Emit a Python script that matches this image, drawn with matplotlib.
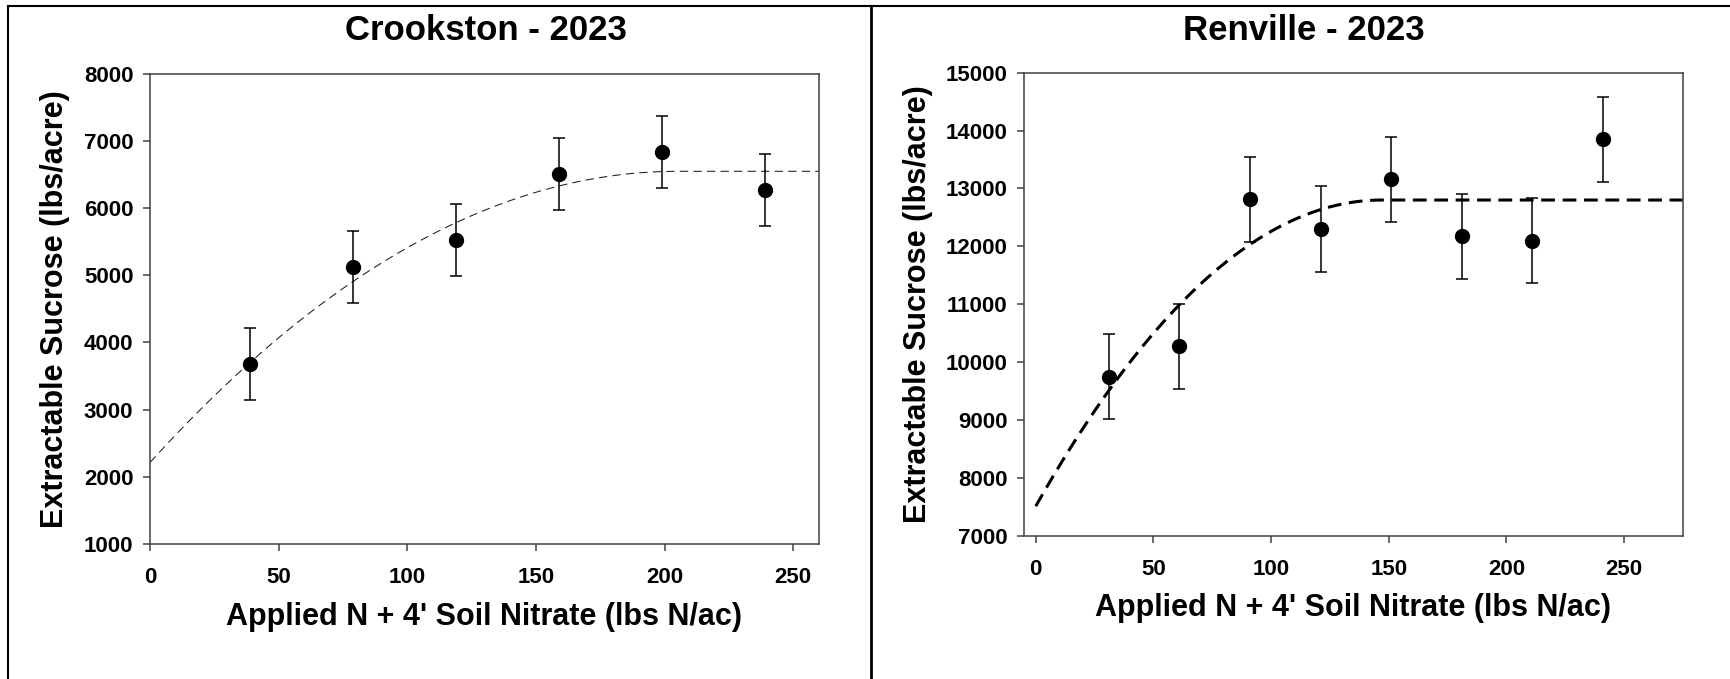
import numpy as np
import matplotlib
matplotlib.use('Agg')
import matplotlib.pyplot as plt
from matplotlib.lines import Line2D

plt.rcParams['font.family'] = ['Liberation Sans', 'DejaVu Sans']
plt.rcParams['font.weight'] = 'bold'

# Crookston - 2023
crk_n = [39, 79, 119, 159, 199, 239]
crk_suc = [3680, 5120, 5530, 6510, 6840, 6270]
crk_se = [535, 535, 535, 535, 535, 535]
# quadratic-plateau fit: intercept, plateau, join point
crk_fit = (2210, 6550, 205)

# Renville - 2023
ren_n = [31, 61, 91, 121, 151, 181, 211, 241]
ren_suc = [9750, 10270, 12810, 12300, 13160, 12170, 12100, 13850]
ren_se = [735, 735, 735, 735, 735, 735, 735, 735]
ren_fit = (7510, 12800, 147)

W, H = 1731, 679
fig = plt.figure(figsize=(W / 100, H / 100), dpi=100)


def qp_curve(x, fit):
    a, p, x0 = fit
    return np.where(x < x0, p - (p - a) * (1 - x / x0) ** 2, p)


def style_axes(ax):
    for s in ax.spines.values():
        s.set_color('#404040')
        s.set_linewidth(1.1)
    ax.tick_params(direction='out', length=5, width=1.1, color='#404040',
                   labelsize=16)
    ax.tick_params(axis='x', pad=12)
    ax.tick_params(axis='y', pad=7)
    for lab in ax.get_xticklabels() + ax.get_yticklabels():
        lab.set_fontweight('bold')


# left panel
ax1 = fig.add_axes([150 / W, 1 - 543.7 / H, 669 / W, 469.7 / H])
xx = np.linspace(0, 260, 300)
ax1.plot(xx, qp_curve(xx, crk_fit), color='#1a1a3a', lw=0.75, dashes=(8, 5))
ax1.errorbar(crk_n, crk_suc, yerr=crk_se, fmt='o', color='black', ms=10,
             ecolor='black', elinewidth=1.1, capsize=4.5, capthick=1.1)
ax1.set_xlim(0, 260)
ax1.set_ylim(1000, 8000)
ax1.set_xticks([0, 50, 100, 150, 200, 250])
ax1.set_yticks(range(1000, 8001, 1000))
style_axes(ax1)

# right panel
ax2 = fig.add_axes([1024 / W, 1 - 535.7 / H, 659 / W, 463 / H])
xx = np.linspace(0, 275, 300)
ax2.plot(xx, qp_curve(xx, ren_fit), color='black', lw=2.2, dashes=(4.5, 2.5))
ax2.errorbar(ren_n, ren_suc, yerr=ren_se, fmt='o', color='black', ms=10,
             ecolor='black', elinewidth=1.1, capsize=4.5, capthick=1.1)
ax2.set_xlim(-5, 275)
ax2.set_ylim(7000, 15000)
ax2.set_xticks([0, 50, 100, 150, 200, 250])
ax2.set_yticks(range(7000, 15001, 1000))
style_axes(ax2)

# titles and axis labels
fig.text(486 / W, 1 - 30 / H, 'Crookston - 2023', ha='center', va='center',
         fontsize=25, fontweight='bold')
fig.text(1304 / W, 1 - 30 / H, 'Renville - 2023', ha='center', va='center',
         fontsize=25, fontweight='bold')
xlab = "Applied N + 4' Soil Nitrate (lbs N/ac)"
ylab = 'Extractable Sucrose (lbs/acre)'
fig.text(484.5 / W, 1 - 617 / H, xlab, ha='center', va='center',
         fontsize=22, fontweight='bold')
fig.text(1353 / W, 1 - 608 / H, xlab, ha='center', va='center',
         fontsize=22, fontweight='bold')
fig.text(55 / W, 1 - 309 / H, ylab, ha='center', va='center', rotation=90,
         fontsize=22, fontweight='bold')
fig.text(918 / W, 1 - 304 / H, ylab, ha='center', va='center', rotation=90,
         fontsize=22, fontweight='bold')

# panel borders
fig.add_artist(Line2D([8 / W, 1], [1 - 6 / H, 1 - 6 / H], color='black', lw=1.5))
fig.add_artist(Line2D([8 / W, 8 / W], [0, 1 - 6 / H], color='black', lw=1.5))
fig.add_artist(Line2D([871 / W, 871 / W], [0, 1 - 6 / H], color='black', lw=2))

fig.savefig('out.png', dpi=100)
